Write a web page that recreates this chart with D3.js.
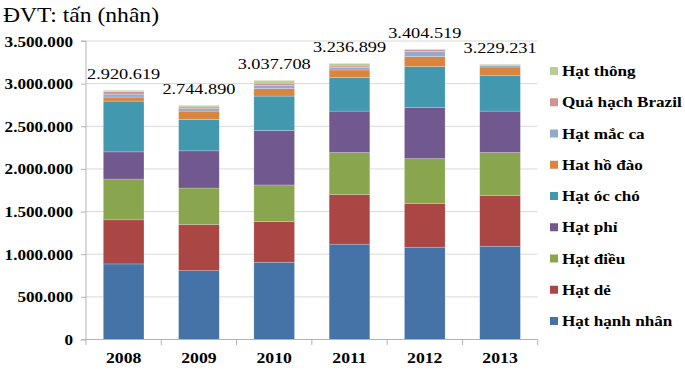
<!DOCTYPE html>
<html>
<head>
<meta charset="utf-8">
<script src="https://cdn.jsdelivr.net/npm/d3@7"></script>
<style>
  body { margin: 0; background: #fff; }
  text { font-family: "Liberation Serif", "Times New Roman", "DejaVu Serif", serif; }
</style>
</head>
<body>
<svg width="685" height="370"></svg>
<script>
/* global d3 */
var svg = d3.select('svg')

// data (tons, kernel basis)
var years = ['2008', '2009', '2010', '2011', '2012', '2013']
var seriesNames = ['Hạt hạnh nhân', 'Hạt dẻ', 'Hạt điều', 'Hạt phỉ', 'Hạt óc chó',
  'Hat hồ đào', 'Hạt mắc ca', 'Quả hạch Brazil', 'Hạt thông']
var hanhNhan = [886000, 807000, 906000, 1118000, 1082000, 1094000]
var hatDe = [517000, 542000, 478000, 583000, 513000, 595000]
var hatDieu = [479000, 427000, 428000, 491000, 526000, 503000]
var hatPhi = [318000, 436000, 639000, 486000, 597000, 486000]
var ocCho = [595000, 368000, 403000, 393000, 482000, 420000]
var hoDao = [47000, 98000, 87000, 89000, 118000, 97000]
var macCa = [35000, 29000, 40000, 30000, 60000, 18000]
var brazil = [28000, 20000, 25000, 17000, 22000, 8000]
var hatThong = [15619, 17890, 31708, 29899, 4519, 8231]
var yTicks = [0, 500000, 1000000, 1500000, 2000000, 2500000, 3000000, 3500000]

var colors = ['#4572a7', '#aa4643', '#89a54e', '#71588f', '#4198af',
  '#db843d', '#93a9cf', '#d19392', '#b9cd96']

// text in the source picture is a bit wider than the font
var sx = 1.18

var allSeries = [hanhNhan, hatDe, hatDieu, hatPhi, ocCho, hoDao, macCa, brazil, hatThong]
var table = years.map(function (y, i) {
  var row = { year: y }
  seriesNames.forEach(function (s, j) { row[s] = allSeries[j][i] })
  return row
})

var vn = d3.formatLocale({ decimal: ',', thousands: '.', grouping: [3], currency: ['', ''] })
var fmt = vn.format(',d')

var x = d3.scaleBand().domain(years).range([86, 537.7])
  .paddingInner(0.46).paddingOuter(0.23)
var y = d3.scaleLinear().domain([0, 3500000]).range([339.5, 41])

var stack = d3.stack().keys(seriesNames)
var layers = stack(table)

function wideText (sel, px, py) {
  return sel.attr('transform', 'translate(' + px + ',' + py + ') scale(' + sx + ',1)')
}

// gridlines
svg.append('g')
  .selectAll('line')
  .data(yTicks.filter(function (d) { return d > 0 }))
  .enter().append('line')
    .attr('x1', 86).attr('x2', 537.7)
    .attr('y1', function (d) { return y(d) }).attr('y2', function (d) { return y(d) })
    .attr('stroke', '#d9d9d9')

// bars
svg.append('g')
  .selectAll('g')
  .data(layers)
  .enter().append('g')
    .attr('fill', function (d, i) { return colors[i] })
  .selectAll('rect')
  .data(function (d) { return d })
  .enter().append('rect')
    .attr('x', function (d) { return x(d.data.year) })
    .attr('width', x.bandwidth())
    .attr('y', function (d) { return y(d[1]) })
    .attr('height', function (d) { return y(d[0]) - y(d[1]) })
    .attr('stroke', '#fff')
    .attr('stroke-opacity', 0.35)
    .attr('stroke-width', 0.6)

// y axis
var yAxis = svg.append('g')
  .attr('transform', 'translate(86,0)')
  .call(d3.axisLeft(y).tickValues(yTicks).tickFormat(fmt).tickSize(5).tickPadding(9))
yAxis.attr('font-family', null)
yAxis.select('.domain').attr('stroke', '#b3b3b3').attr('d', 'M-5,41H0V339.5H-5')
yAxis.selectAll('.tick line').attr('stroke', '#b3b3b3')
yAxis.selectAll('.tick text')
  .attr('x', null).attr('dy', null)
  .attr('font-size', 14.5)
  .attr('font-weight', 'bold')
  .attr('fill', '#000')
  .call(wideText, -13, 5)

// x axis
var step = x.step()
var bounds = d3.range(years.length + 1).map(function (i) { return x.range()[0] + i * step })
svg.append('line')
  .attr('x1', 86).attr('x2', 537.7).attr('y1', 339.5).attr('y2', 339.5)
  .attr('stroke', '#b3b3b3')
svg.append('g').selectAll('line')
  .data(bounds)
  .enter().append('line')
    .attr('x1', function (d) { return d }).attr('x2', function (d) { return d })
    .attr('y1', 339.5).attr('y2', 345)
    .attr('stroke', '#b3b3b3')
svg.append('g').selectAll('text')
  .data(years)
  .enter().append('text')
    .attr('text-anchor', 'middle')
    .attr('font-size', 15)
    .attr('font-weight', 'bold')
    .text(function (d) { return d })
    .each(function (d) { wideText(d3.select(this), x(d) + x.bandwidth() / 2, 363) })

// totals
var totals = table.map(function (r) {
  return d3.sum(seriesNames, function (s) { return r[s] })
})
svg.append('g').selectAll('text')
  .data(totals)
  .enter().append('text')
    .attr('text-anchor', 'middle')
    .attr('font-size', 15.5)
    .text(function (d) { return fmt(d) })
    .each(function (d, i) {
      wideText(d3.select(this), x(years[i]) + x.bandwidth() / 2, y(d) - 11)
    })

// unit title
svg.append('text')
  .attr('font-size', 20)
  .text('ĐVT: tấn (nhân)')
  .call(wideText, 3, 22)

// legend (top to bottom is reverse of stack)
var legendY = d3.scaleLinear().domain([seriesNames.length - 1, 0]).range([71, 321])
var legend = svg.append('g').selectAll('g')
  .data(seriesNames)
  .enter().append('g')
    .attr('transform', function (d, i) { return 'translate(550,' + legendY(i) + ')' })
legend.append('rect')
  .attr('x', 0).attr('y', -4).attr('width', 8).attr('height', 8)
  .attr('fill', function (d, i) { return colors[i] })
legend.append('text')
  .attr('font-size', 14.5)
  .attr('font-weight', 'bold')
  .text(function (d) { return d })
  .call(wideText, 12, 5)
</script>
</body>
</html>
